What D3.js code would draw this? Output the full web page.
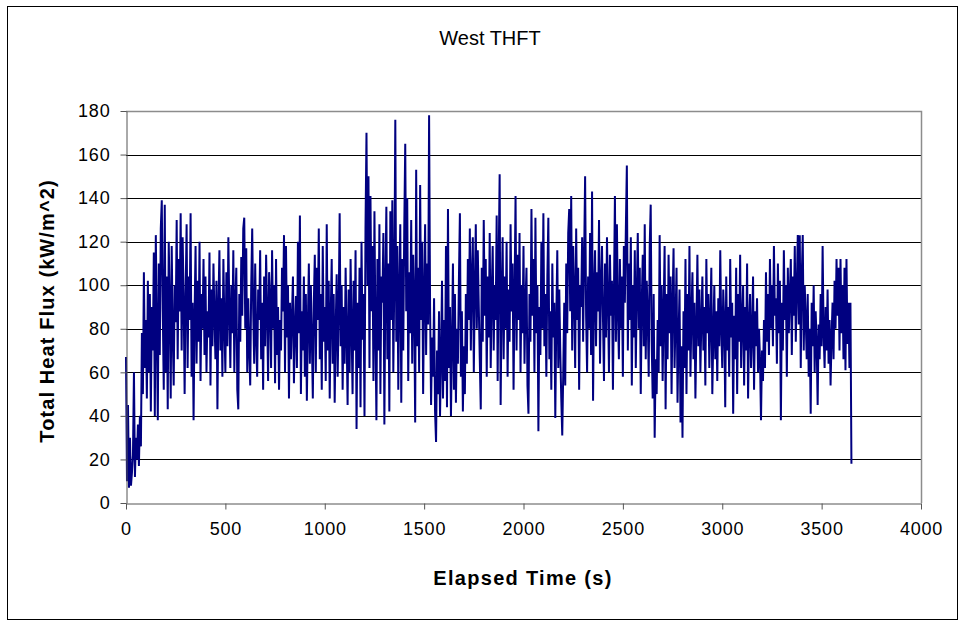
<!DOCTYPE html>
<html>
<head>
<meta charset="utf-8">
<script src="https://cdn.jsdelivr.net/npm/d3@7"></script>
<style>
  body { margin: 0; background: #fff; }
  svg text { font-family: "Liberation Sans", Arial, sans-serif; fill: #000; }
</style>
</head>
<body>
<div class="canva"></div>
<script>
// sample interval of the logger, seconds
const step = 5;

// total heat flux readings (kW/m^2), one every 5 s from t = 0
const flux = [
  67,10,45,7,30,8,14,22,60,12,30,20,36,17,40,26,78,50,106,62,
  84,48,102,60,96,42,90,70,115,40,123,80,38,110,68,126,139,88,52,137,
  60,104,43,120,92,48,118,78,54,100,83,130,66,112,88,133,70,122,94,50,
  96,128,62,104,84,133,58,92,38,86,118,64,102,74,120,56,96,80,112,68,
  104,60,88,76,115,54,98,72,110,86,66,102,43,90,116,70,94,58,112,82,
  60,106,72,122,88,62,100,78,116,60,92,108,52,43,96,74,113,86,126,131,
  80,117,60,94,70,54,100,126,88,64,110,76,58,98,84,116,66,92,52,104,
  72,114,88,56,106,94,62,116,80,100,55,112,68,90,52,84,70,108,88,123,
  60,118,76,100,48,92,66,86,104,55,80,95,62,120,78,132,50,88,70,104,
  58,96,47,82,110,64,100,76,48,92,114,60,108,84,126,66,96,52,118,74,
  90,56,128,70,102,48,86,112,64,96,46,80,105,58,88,133,72,100,52,90,
  64,108,78,45,98,60,112,80,50,102,70,116,34,92,62,108,44,120,75,96,
  40,126,170,100,150,62,141,88,118,56,134,80,38,112,70,128,50,104,92,124,
  36,100,136,66,110,42,134,84,139,60,102,176,74,118,52,98,128,46,112,70,
  126,165,88,140,56,106,78,130,64,114,92,37,153,72,108,60,146,84,120,50,
  96,128,68,110,82,178,90,45,76,58,94,42,28,70,50,88,40,66,102,48,
  84,56,118,44,135,62,90,40,74,110,52,96,46,80,64,102,133,58,88,42,
  72,50,96,64,112,84,126,70,104,122,60,98,128,80,116,90,66,43,108,74,
  130,86,112,58,104,76,124,62,96,118,70,100,84,132,56,110,151,45,94,122,
  66,104,80,120,58,98,74,128,88,110,52,96,141,70,114,84,124,60,100,78,
  118,64,92,108,54,41,96,74,135,86,112,60,131,78,100,33,90,68,120,80,
  133,72,96,58,104,131,66,88,52,110,76,92,39,84,116,62,98,70,48,31,
  60,92,54,110,78,124,135,88,141,70,118,96,62,126,84,108,52,100,90,122,
  74,112,150,86,60,104,80,124,68,143,47,98,116,72,106,88,130,64,100,118,
  84,56,110,76,122,94,60,114,86,102,52,96,141,74,128,88,66,112,80,104,
  58,118,92,126,155,70,110,84,122,54,100,76,116,62,96,124,80,108,50,92,
  114,72,128,66,102,86,58,118,137,74,48,96,30,66,50,84,60,123,72,100,
  56,88,118,43,96,66,114,78,104,50,92,117,62,84,108,46,76,98,37,72,
  30,88,62,112,50,96,70,118,58,86,106,66,92,48,80,114,72,98,60,84,
  104,70,90,54,112,78,96,62,84,108,50,76,100,66,88,56,94,72,116,80,
  62,98,84,44,104,70,90,58,112,76,92,41,86,66,108,50,96,74,114,62,
  84,100,54,90,70,110,48,82,96,62,78,104,52,88,72,94,60,80,66,38,
  70,56,84,62,106,74,96,68,112,80,100,72,118,86,94,64,110,78,102,38,
  92,70,116,84,100,58,108,78,96,112,68,104,86,118,74,98,123,82,123,62,
  104,123,70,100,84,66,96,58,80,41,92,72,100,60,88,74,45,82,66,96,
  72,118,78,62,90,70,98,64,84,54,76,92,66,102,80,112,86,108,70,112,
  78,100,66,108,61,112,73,92,62,92,18
];

const xTicks = [0, 500, 1000, 1500, 2000, 2500, 3000, 3500, 4000];
const yTicks = [0, 20, 40, 60, 80, 100, 120, 140, 160, 180];

const chartTitle = "West THFT";
const xTitle = "Elapsed Time (s)";
const yTitle = "Total Heat Flux (kW/m^2)";

var W = 962, H = 624;
var margin = { top: 111, right: 41, bottom: 121, left: 126 },
    width = W - margin.left - margin.right,
    height = H - margin.top - margin.bottom;

const svg = d3.select(".canva").append("svg")
    .attr("width", W)
    .attr("height", H)
    .attr("viewBox", [0, 0, W, H]);

// outer chart frame
svg.append("rect")
    .attr("x", 7.5).attr("y", 6.5)
    .attr("width", 950).attr("height", 613)
    .attr("fill", "none")
    .attr("stroke", "#000");

const x = d3.scaleLinear([0, 4000], [margin.left, margin.left + width]);
const y = d3.scaleLinear([0, 180], [margin.top + height, margin.top]);

// gridlines
svg.append("g")
    .selectAll("line")
    .data(yTicks.filter(d => d > 0 && d < 180))
    .join("line")
    .attr("x1", x(0)).attr("x2", x(4000))
    .attr("y1", d => Math.round(y(d)) + 0.5)
    .attr("y2", d => Math.round(y(d)) + 0.5)
    .attr("stroke", "#000");

// plot area border (top + right grey)
svg.append("path")
    .attr("d", `M${x(0)},${y(180) + 0.5}H${x(4000) + 0.5}V${y(0)}`)
    .attr("fill", "none")
    .attr("stroke", "#8c8c8c")
    .attr("stroke-width", 1.5);

const line = d3.line()
    .x((d, i) => x(i * step))
    .y(d => y(d));

svg.append("path")
    .attr("fill", "none")
    .attr("stroke", "#000080")
    .attr("stroke-width", 2)
    .attr("d", line(flux));

// axes
svg.append("g")
    .attr("transform", `translate(0, ${y(0) + 0.5})`)
    .call(d3.axisBottom(x).tickValues(xTicks).tickFormat(d3.format("d"))
        .tickSize(6).tickPadding(13).tickSizeOuter(0))
    .call(g => g.select(".domain").attr("stroke", "#555"))
    .call(g => g.selectAll(".tick line").attr("stroke", "#555"))
    .call(g => g.selectAll("text").attr("font-size", 18).attr("letter-spacing", 0.8).attr("font-family", null));

svg.append("g")
    .attr("transform", `translate(${x(0) + 0.5}, 0)`)
    .call(d3.axisLeft(y).tickValues(yTicks).tickSize(6).tickPadding(10).tickSizeOuter(0))
    .call(g => g.select(".domain").attr("stroke", "#555"))
    .call(g => g.selectAll(".tick line").attr("stroke", "#555"))
    .call(g => g.selectAll("text").attr("font-size", 18).attr("letter-spacing", 0.8).attr("font-family", null));

// titles
svg.append("text")
    .attr("x", 490).attr("y", 45)
    .attr("text-anchor", "middle")
    .attr("font-size", 20)
    .text(chartTitle);

svg.append("text")
    .attr("x", 523).attr("y", 585)
    .attr("text-anchor", "middle")
    .attr("font-size", 20)
    .attr("font-weight", "bold")
    .attr("letter-spacing", 1.3)
    .text(xTitle);

svg.append("text")
    .attr("transform", `translate(54, 311) rotate(-90)`)
    .attr("text-anchor", "middle")
    .attr("font-size", 20)
    .attr("font-weight", "bold")
    .attr("letter-spacing", 1.1)
    .text(yTitle);
</script>
</body>
</html>
